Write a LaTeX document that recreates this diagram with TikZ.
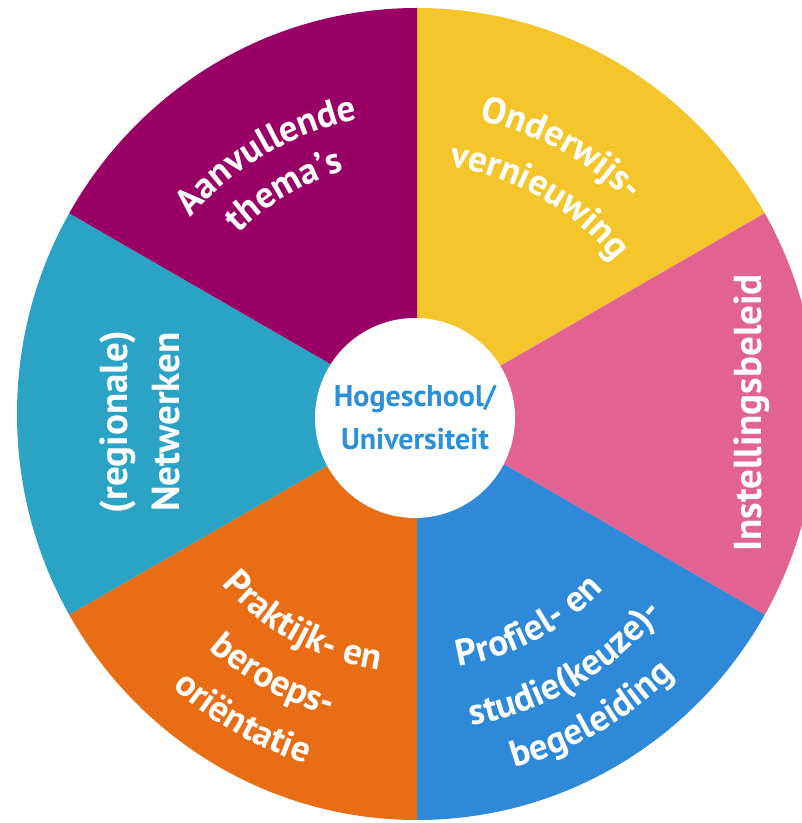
\documentclass[tikz,border=0pt]{standalone}
\usepackage{fontspec}
\setmainfont{PT Sans}
\usetikzlibrary{decorations.text}
\definecolor{cpurple}{HTML}{990066}
\definecolor{cyellow}{HTML}{F5C62C}
\definecolor{cpink}{HTML}{E26292}
\definecolor{cblue}{HTML}{2E8AD8}
\definecolor{corange}{HTML}{E96D14}
\definecolor{cteal}{HTML}{2BA3C5}
\definecolor{ctext}{HTML}{2A90DA}
\newcommand\wfont{\fontsize{37}{44}\selectfont\bfseries}
\newcommand\toptext[3]{\path[decorate,decoration={text along path,text align=center,text color=white,text={|\wfont|#3}}] ([shift={(#1+38:#2)}]C) arc[start angle=#1+38, end angle=#1-38, radius=#2];}
\newcommand\bottext[3]{\path[decorate,decoration={text along path,text align=center,text color=white,text={|\wfont|#3}}] ([shift={(#1-38:#2)}]C) arc[start angle=#1-38, end angle=#1+38, radius=#2];}
\tikzset{
  vtext/.style={text=white, font={\fontsize{39}{52}\selectfont\bfseries}, align=center, inner sep=0pt, rotate=90},
  hubtext/.style={text=ctext, font={\fontsize{30}{43}\selectfont\bfseries}, align=center, inner sep=0pt}
}
\begin{document}
\begin{tikzpicture}[x=1pt,y=1pt]
\useasboundingbox (0,0) rectangle (802,823);
\fill[white] (0,0) rectangle (802,823);
\coordinate (C) at (417,409);
\begin{scope}
  \clip (0,0) rectangle (802,823);
  \clip (C) ellipse [x radius=400, y radius=406];
  \fill[cyellow] (C) -- ([shift={(90:900)}]C) -- ([shift={(30:900)}]C) -- cycle;
  \fill[cpink] (C) -- ([shift={(30:900)}]C) -- ([shift={(-30:900)}]C) -- cycle;
  \fill[cblue] (C) -- ([shift={(-30:900)}]C) -- ([shift={(-90:900)}]C) -- cycle;
  \fill[corange] (C) -- ([shift={(-90:900)}]C) -- ([shift={(-150:900)}]C) -- cycle;
  \fill[cteal] (C) -- ([shift={(-150:900)}]C) -- ([shift={(150:900)}]C) -- cycle;
  \fill[cpurple] (C) -- ([shift={(150:900)}]C) -- ([shift={(90:900)}]C) -- cycle;
\end{scope}
% curved labels
\toptext{120.2}{300}{Aanvullende}
\toptext{120.7}{254}{thema's}
\toptext{61.5}{300}{Onderwijs-}
\toptext{60.2}{249}{vernieuwing}
\bottext{-118.7}{259}{Praktijk- en}
\bottext{-118.8}{314}{beroeps-}
\bottext{-119.7}{367}{oriëntatie}
\bottext{-61.9}{256}{Profiel- en}
\bottext{-59.4}{316}{studie(keuze)-}
\bottext{-60.0}{367}{begeleiding}
% straight labels
\node[vtext] (inst) at (752,410) {Instellingsbeleid};
\node[vtext] (netw) at (140,401) {(regionale)\\Netwerken};
% hub
\node[circle, fill=white, minimum size=200pt, inner sep=0pt] (hub) at (415,405) {};
\node[hubtext] (hubt) at (415,405) {Hogeschool/\\Universiteit};
\end{tikzpicture}
\end{document}
